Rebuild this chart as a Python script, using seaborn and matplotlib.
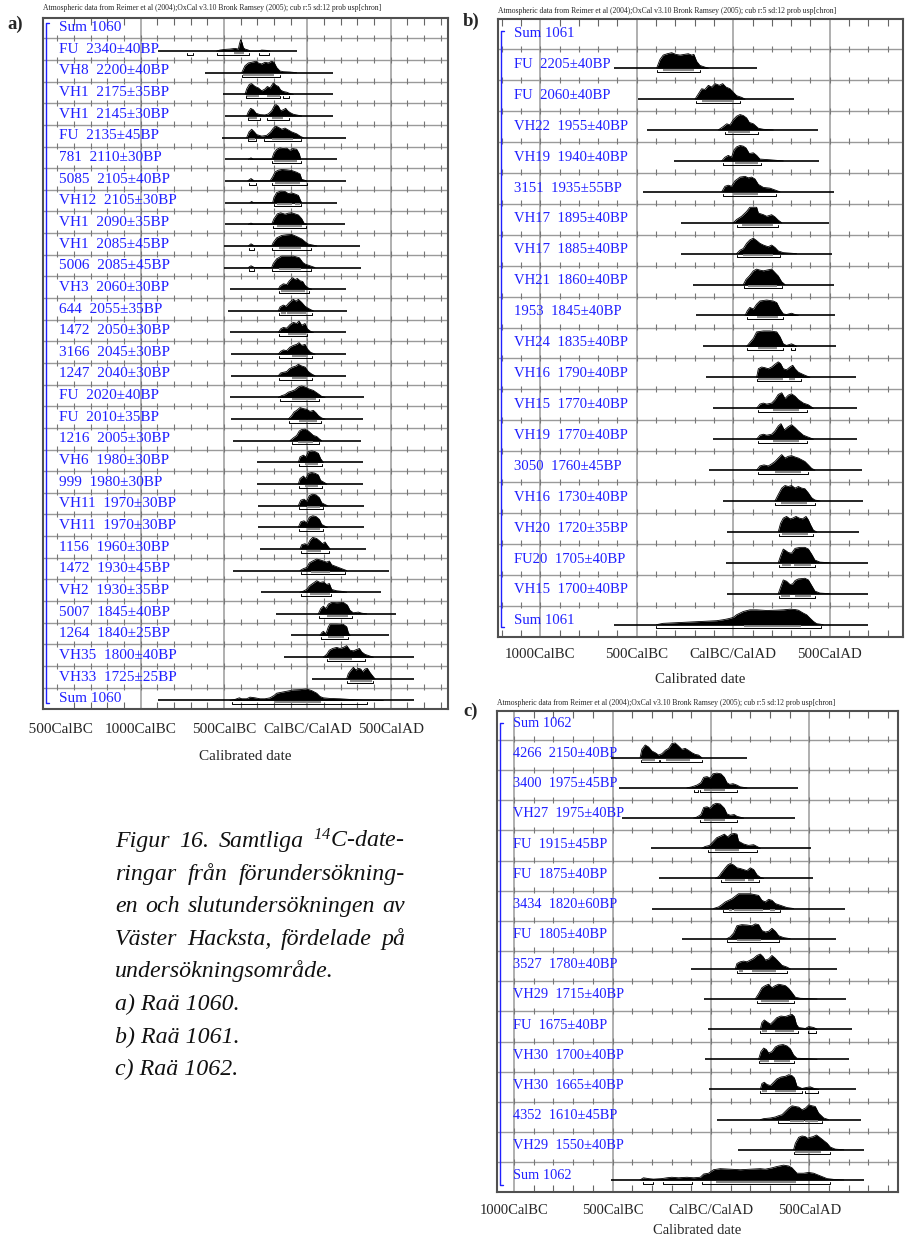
import numpy as np
import pandas as pd
import matplotlib
matplotlib.use("Agg")
import matplotlib.pyplot as plt
import seaborn as sns
from matplotlib.transforms import Bbox, blended_transform_factory

# ---------------------------------------------------------------- data
HEADER = ("Atmospheric data from Reimer et al (2004);OxCal v3.10 Bronk Ramsey (2005); "
          "cub r:5 sd:12 prob usp[chron]")

# Raä 1060
A_LABELS = ["Sum 1060", "FU  2340±40BP", "VH8  2200±40BP", "VH1  2175±35BP", "VH1  2145±30BP",
            "FU  2135±45BP", "781  2110±30BP", "5085  2105±40BP", "VH12  2105±30BP",
            "VH1  2090±35BP", "VH1  2085±45BP", "5006  2085±45BP", "VH3  2060±30BP",
            "644  2055±35BP", "1472  2050±30BP", "3166  2045±30BP", "1247  2040±30BP",
            "FU  2020±40BP", "FU  2010±35BP", "1216  2005±30BP", "VH6  1980±30BP",
            "999  1980±30BP", "VH11  1970±30BP", "VH11  1970±30BP", "1156  1960±30BP",
            "1472  1930±45BP", "VH2  1930±35BP", "5007  1845±40BP", "1264  1840±25BP",
            "VH35  1800±40BP", "VH33  1725±25BP", "Sum 1060"]
A_SPANS = [None, (-895, -65), (-614, 152), (-504, 152), (-494, 152), (-510, 232), (-494, 180),
           (-494, 232), (-494, 180), (-494, 228), (-500, 316), (-500, 320), (-464, 232),
           (-474, 236), (-464, 232), (-458, 232), (-458, 232), (-464, 342), (-458, 336),
           (-448, 322), (-300, 336), (-300, 336), (-294, 342), (-294, 342), (-284, 350),
           (-444, 492), (-278, 440), (-190, 530), (-98, 488), (-140, 640), (26, 640), (-895, 640)]
A_YEARS = [
    None,
    [-544, -524, -494, -464, -434, -414, -408, -400, -392, -384, -374, -354, -344, -294, -274, -244, -224],
    [-394, -374, -354, -334, -308, -294, -274, -254, -234, -214, -200, -184, -164, -144, -104, -64],
    [-374, -364, -348, -334, -314, -294, -274, -254, -240, -224, -204, -188, -174, -160, -144, -124, -108, -84],
    [-364, -354, -340, -324, -308, -284, -254, -234, -214, -200, -188, -174, -160, -144, -130, -118, -104, -84, -54, -34],
    [-364, -350, -334, -320, -304, -274, -244, -220, -204, -188, -174, -154, -134, -114, -94, -64, -40, -24],
    [-354, -338, -324, -214, -200, -184, -164, -144, -124, -104, -88, -64, -48, -40],
    [-358, -338, -318, -224, -208, -194, -174, -154, -124, -94, -64, -44, -34, -4],
    [-344, -334, -324, -208, -200, -184, -160, -134, -114, -94, -74, -54, -40, -34],
    [-354, -338, -324, -214, -200, -180, -160, -134, -114, -94, -74, -54, -34, -20, -4],
    [-354, -338, -318, -214, -204, -184, -154, -124, -94, -64, -34, -14, 6, 36, 56],
    [-354, -338, -318, -214, -204, -184, -154, -124, -84, -48, -28, -14, 16, 46],
    [-174, -164, -144, -124, -108, -88, -74, -60, -44, -28, -14, 6, 26],
    [-174, -164, -144, -128, -108, -84, -68, -54, -34, -14, 0, 20, 36],
    [-174, -160, -144, -124, -104, -84, -64, -50, -34, -14, 0, 20, 36],
    [-174, -160, -144, -124, -104, -84, -64, -50, -34, -14, 0, 20, 46],
    [-174, -160, -144, -124, -108, -88, -68, -54, -34, -14, 6, 26, 46],
    [-174, -154, -134, -114, -94, -74, -54, -34, -14, 6, 36, 66, 86, 106],
    [-114, -94, -80, -64, -44, -24, -4, 16, 36, 52, 66, 86, 106],
    [-104, -84, -64, -48, -34, -14, 6, 20, 36, 56, 72, 86],
    [-54, -44, -24, -8, 6, 26, 46, 66, 80, 96],
    [-54, -44, -24, -8, 6, 26, 46, 66, 80, 106, 116],
    [-54, -40, -20, -4, 12, 32, 52, 72, 86, 106, 120],
    [-54, -40, -20, -4, 12, 32, 52, 72, 86, 106, 120],
    [-44, -34, -14, 0, 16, 32, 56, 76, 90, 106, 120, 136],
    [-44, -24, -4, 12, 32, 56, 76, 96, 116, 132, 146, 176, 206, 236],
    [-44, -24, -4, 12, 32, 56, 76, 96, 116, 132, 146, 176, 216, 236],
    [66, 80, 96, 112, 126, 146, 176, 216, 240, 256, 276, 306, 326, 356],
    [76, 86, 96, 112, 126, 136, 176, 216, 236, 246, 256],
    [96, 116, 132, 152, 176, 196, 216, 236, 256, 276, 296, 312, 326, 346, 376, 396],
    [236, 246, 262, 276, 292, 306, 320, 332, 346, 360, 376, 392, 406],
    [-464, -434, -408, -394, -364, -344, -314, -284, -254, -224, -200, -184, -154, -124, -84, -44,
     -4, 26, 56, 76, 96, 136, 196, 256, 336, 456],
]
A_DENS = [
    None,
    [0, 3, 5, 6, 8, 6, 20, 34, 25, 10, 6, 3, 0, 0, 3, 2, 0],
    [0, 20, 28, 30, 33, 28, 25, 30, 28, 33, 30, 15, 5, 3, 2, 0],
    [0, 15, 28, 30, 22, 18, 10, 15, 22, 18, 32, 25, 22, 12, 8, 6, 3, 0],
    [0, 12, 22, 18, 8, 4, 3, 6, 15, 28, 33, 28, 15, 18, 22, 15, 10, 5, 2, 0],
    [0, 15, 22, 16, 8, 4, 6, 15, 25, 30, 27, 22, 25, 20, 15, 10, 3, 0],
    [0, 4, 0, 0, 18, 28, 32, 30, 31, 25, 30, 28, 15, 0],
    [0, 7, 0, 0, 12, 26, 31, 33, 32, 30, 25, 20, 5, 0],
    [0, 3, 0, 0, 15, 28, 32, 31, 25, 27, 24, 20, 5, 0],
    [0, 3, 0, 0, 15, 28, 31, 27, 30, 31, 28, 25, 15, 3, 0],
    [0, 6, 0, 0, 10, 23, 30, 32, 33, 27, 20, 12, 5, 2, 0],
    [0, 5, 0, 0, 12, 25, 33, 33, 33, 28, 15, 10, 5, 0],
    [0, 8, 14, 12, 22, 30, 25, 28, 22, 20, 10, 3, 0],
    [0, 10, 15, 12, 22, 30, 25, 30, 22, 12, 8, 3, 0],
    [0, 10, 14, 12, 22, 28, 25, 32, 20, 25, 10, 3, 0],
    [0, 8, 12, 10, 20, 25, 28, 33, 25, 28, 15, 5, 0],
    [0, 8, 10, 12, 20, 25, 28, 33, 28, 25, 12, 5, 0],
    [0, 5, 8, 15, 18, 22, 30, 33, 30, 25, 20, 10, 3, 0],
    [0, 10, 20, 25, 33, 30, 28, 22, 25, 18, 10, 3, 0],
    [0, 8, 15, 28, 32, 33, 28, 22, 15, 12, 5, 0],
    [0, 15, 20, 15, 30, 32, 30, 25, 10, 0],
    [0, 15, 22, 15, 30, 32, 30, 25, 10, 3, 0],
    [0, 15, 18, 12, 28, 32, 30, 22, 8, 3, 0],
    [0, 15, 18, 12, 28, 32, 30, 22, 8, 3, 0],
    [0, 12, 15, 10, 25, 33, 30, 22, 15, 20, 10, 0],
    [0, 5, 8, 20, 25, 30, 28, 25, 22, 25, 15, 10, 5, 0],
    [0, 3, 8, 18, 25, 33, 28, 30, 22, 25, 8, 4, 2, 0],
    [0, 15, 22, 15, 28, 33, 32, 33, 25, 10, 3, 5, 2, 0],
    [0, 8, 12, 5, 25, 33, 33, 32, 25, 8, 0],
    [0, 8, 20, 25, 28, 25, 28, 33, 20, 18, 22, 25, 15, 8, 3, 0],
    [0, 15, 25, 33, 25, 30, 28, 20, 28, 30, 18, 8, 0],
    [0, 3, 8, 5, 5, 10, 8, 5, 5, 8, 15, 22, 25, 28, 32, 33, 35, 30, 22, 12, 8, 6, 5, 3, 1, 0],
]
A_R68 = [None, [(-440, -380)], [(-384, -200)], [(-370, -288), (-244, -164)],
         [(-354, -304), (-214, -144)], [(-348, -314), (-214, -88)], [(-200, -64)], [(-194, -44)],
         [(-184, -94), (-74, -44)], [(-184, -34)], [(-168, -40)], [(-168, -40)], [(-160, -14)],
         [(-160, -130), (-124, -8)], [(-114, -8)], [(-94, 6)], [(-94, -4)], [(-94, 52)], [(-48, 56)],
         [(-54, 36)], [(-14, 66)], [(-14, 66)], [(-4, 76)], [(-4, 76)], [(-4, 80)], [(20, 136)],
         [(16, 136)], [(116, 246)], [(126, 222)], [(132, 266)], [(256, 386)], [(-200, 80)]]
A_R95 = [None, [(-720, -688), (-540, -348), (-288, -228)], [(-392, -164)],
         [(-370, -164), (-144, -108)], [(-358, -284), (-240, -108)], [(-354, -308), (-258, -40)],
         [(-210, -38)], [(-350, -308), (-210, -4)], [(-200, -38)], [(-208, -8)],
         [(-350, -318), (-210, 22)], [(-350, -318), (-210, 22)], [(-170, 12)], [(-170, 30)],
         [(-170, -4)], [(-170, 30)], [(-170, 30)], [(-164, 72)], [(-110, 82)], [(-94, 72)],
         [(-50, 86)], [(-50, 86)], [(-50, 92)], [(-50, 92)], [(-40, 132)], [(-40, 226)],
         [(-40, 142)], [(72, 266)], [(80, 242)], [(120, 346)], [(240, 392)], [(-454, 356)]]
A_TICKS = [-1500, -1000, -500, 0, 500]
A_TICKLABELS = ["1500CalBC", "1000CalBC", "500CalBC", "CalBC/CalAD", "500CalAD"]
A_GRID = [-1000, -500, 0, 500]

# Raä 1061
B_LABELS = ["Sum 1061", "FU  2205±40BP", "FU  2060±40BP", "VH22  1955±40BP", "VH19  1940±40BP",
            "3151  1935±55BP", "VH17  1895±40BP", "VH17  1885±40BP", "VH21  1860±40BP",
            "1953  1845±40BP", "VH24  1835±40BP", "VH16  1790±40BP", "VH15  1770±40BP",
            "VH19  1770±40BP", "3050  1760±45BP", "VH16  1730±40BP", "VH20  1720±35BP",
            "FU20  1705±40BP", "VH15  1700±40BP", "Sum 1061"]
B_SPANS = [None, (-618, 121), (-492, 314), (-449, 437), (-307, 446), (-466, 522), (-273, 498),
           (-273, 510), (-207, 522), (-193, 527), (-155, 532), (-141, 636), (-104, 639),
           (-104, 639), (-124, 665), (-52, 670), (-34, 653), (-38, 700), (-34, 700), (-618, 700)]
B_YEARS = [
    None,
    [-397, -380, -363, -342, -319, -297, -276, -255, -233, -216, -204, -190, -173, -147, -129],
    [-198, -181, -164, -147, -129, -112, -95, -72, -55, -38, -17, 0, 17, 43, 61],
    [-78, -52, -34, -17, 0, 17, 35, 52, 69, 83, 104, 130, 156, 207],
    [-60, -43, -26, -9, 4, 17, 35, 52, 66, 83, 104, 121, 138, 190, 259],
    [-60, -43, -26, -9, 9, 35, 61, 78, 95, 112, 130, 156, 190, 216, 242],
    [0, 17, 43, 69, 86, 121, 130, 156, 173, 199, 216, 233, 251],
    [17, 35, 52, 69, 86, 104, 121, 138, 156, 181, 199, 216, 233, 259, 328],
    [52, 66, 83, 104, 121, 138, 156, 173, 199, 216, 233, 251, 268],
    [61, 73, 86, 104, 121, 138, 173, 207, 225, 242, 259, 276, 302, 320, 337],
    [69, 83, 104, 121, 156, 190, 225, 242, 259, 276, 302, 320, 328],
    [121, 130, 147, 164, 181, 199, 216, 233, 245, 259, 276, 294, 308, 320, 337, 363, 397],
    [121, 138, 156, 173, 199, 216, 233, 251, 268, 285, 302, 320, 337, 363, 389, 415],
    [121, 138, 156, 173, 199, 216, 233, 247, 264, 285, 302, 320, 337, 363, 389, 415],
    [121, 138, 159, 181, 199, 216, 233, 251, 268, 285, 302, 320, 337, 354, 371, 389, 406, 423],
    [216, 233, 251, 268, 285, 302, 320, 337, 354, 371, 389, 406, 423, 449],
    [233, 245, 259, 276, 294, 308, 325, 342, 359, 377, 389, 401, 415, 432],
    [233, 245, 259, 273, 285, 302, 320, 346, 371, 389, 406, 423, 449, 501],
    [233, 245, 259, 276, 294, 308, 320, 337, 371, 389, 406, 423, 449, 501],
    [-397, -363, -293, -224, -155, -86, -52, -26, 0, 17, 52, 86, 121, 173, 225, 259, 294, 320, 337,
     363, 380, 397, 415, 432, 466],
]
B_DENS = [
    None,
    [0, 25, 38, 42, 45, 40, 38, 40, 42, 38, 40, 20, 8, 3, 0],
    [0, 15, 30, 28, 40, 35, 45, 40, 45, 35, 30, 20, 10, 5, 0],
    [0, 10, 18, 15, 30, 40, 45, 42, 35, 22, 18, 5, 2, 0],
    [0, 10, 15, 10, 30, 38, 42, 40, 35, 20, 22, 15, 5, 3, 0],
    [0, 15, 18, 15, 30, 40, 42, 38, 40, 35, 20, 12, 10, 5, 0],
    [0, 10, 20, 35, 48, 48, 30, 25, 20, 25, 18, 8, 0],
    [0, 10, 15, 30, 40, 45, 38, 30, 25, 20, 25, 18, 8, 3, 0],
    [0, 15, 25, 40, 45, 42, 40, 42, 45, 35, 25, 8, 0],
    [0, 15, 25, 20, 35, 45, 48, 45, 40, 20, 5, 3, 7, 3, 0],
    [0, 10, 25, 45, 48, 48, 45, 30, 8, 3, 8, 3, 0],
    [0, 25, 30, 28, 25, 30, 38, 45, 40, 25, 22, 30, 35, 25, 15, 8, 0],
    [0, 12, 15, 12, 15, 25, 40, 45, 28, 38, 42, 35, 25, 15, 10, 0],
    [0, 12, 15, 12, 15, 25, 40, 47, 28, 38, 44, 35, 25, 12, 6, 0],
    [0, 12, 15, 12, 18, 25, 35, 45, 35, 40, 42, 38, 35, 30, 25, 15, 5, 0],
    [0, 20, 40, 48, 45, 48, 40, 45, 40, 38, 25, 10, 3, 0],
    [0, 25, 40, 45, 38, 40, 45, 40, 38, 45, 35, 20, 5, 0],
    [0, 20, 40, 35, 30, 28, 42, 45, 45, 40, 25, 8, 2, 0],
    [0, 20, 42, 38, 28, 30, 40, 45, 47, 42, 25, 8, 2, 0],
    [0, 4, 6, 8, 10, 12, 15, 18, 22, 30, 40, 45, 45, 43, 44, 45, 47, 46, 44, 35, 30, 20, 10, 3, 0],
]
B_R68 = [None, [(-366, -204)], [(-164, 4)], [(-26, 86)], [(9, 130)], [(0, 130)], [(43, 207)],
         [(52, 207)], [(78, 225)], [(121, 233)], [(130, 228)], [(130, 259), (290, 320)],
         [(204, 340)], [(207, 340)], [(216, 349)], [(245, 380)], [(251, 389)],
         [(251, 299), (316, 401)], [(247, 294), (320, 401)], [(57, 349)]]
B_R95 = [None, [(-394, -173)], [(-193, 35)], [(-43, 130)], [(-52, 142)], [(-52, 221)], [(17, 233)],
         [(17, 242)], [(55, 251)], [(69, 259)], [(69, 259), (299, 320)], [(121, 349)], [(130, 380)],
         [(130, 380)], [(130, 389)], [(216, 423)], [(237, 411)], [(237, 423)], [(237, 423)],
         [(-402, 453)]]
B_TICKS = [-1000, -500, 0, 500]
B_TICKLABELS = ["1000CalBC", "500CalBC", "CalBC/CalAD", "500CalAD"]
B_GRID = [-1000, -500, 0, 500]

# Raä 1062
C_LABELS = ["Sum 1062", "4266  2150±40BP", "3400  1975±45BP", "VH27  1975±40BP", "FU  1915±45BP",
            "FU  1875±40BP", "3434  1820±60BP", "FU  1805±40BP", "3527  1780±40BP",
            "VH29  1715±40BP", "FU  1675±40BP", "VH30  1700±40BP", "VH30  1665±40BP",
            "4352  1610±45BP", "VH29  1550±40BP", "Sum 1062"]
C_SPANS = [None, (-509, 183), (-465, 441), (-450, 429), (-305, 508), (-266, 519), (-300, 683),
           (-148, 637), (-102, 641), (-34, 688), (-17, 717), (-29, 703), (-12, 737), (30, 763),
           (140, 776), (-509, 776)]
C_YEARS = [
    None,
    [-360, -351, -334, -317, -300, -283, -266, -249, -232, -215, -199, -182, -165, -148, -131, -114, -97, -80, -63, -46],
    [-122, -97, -71, -51, -37, -20, -4, 10, 30, 51, 68, 81, 95, 112, 132, 149, 183],
    [-88, -71, -51, -37, -20, -4, 10, 27, 47, 68, 81, 98, 118, 132, 166],
    [-46, -29, -7, 13, 30, 51, 68, 85, 101, 118, 132, 140, 166, 191, 217, 234, 251],
    [22, 39, 56, 73, 85, 98, 115, 132, 149, 166, 183, 200, 217, 234, 251, 268],
    [13, 39, 56, 73, 90, 107, 129, 140, 200, 242, 259, 276, 293, 310, 327, 352, 386, 420],
    [81, 98, 115, 132, 157, 183, 208, 225, 242, 259, 276, 293, 310, 327, 344, 369, 403],
    [124, 132, 149, 166, 183, 200, 217, 234, 251, 264, 276, 293, 310, 327, 344, 361, 386, 403],
    [225, 242, 259, 276, 293, 310, 327, 344, 361, 378, 395, 412, 429, 454, 539],
    [251, 259, 271, 285, 302, 319, 335, 356, 378, 395, 412, 424, 434, 446, 480, 497, 522, 539],
    [242, 254, 268, 281, 293, 310, 327, 344, 366, 386, 403, 420, 437, 488, 539],
    [251, 259, 271, 285, 302, 319, 335, 356, 378, 395, 412, 424, 437, 463, 485, 505, 525, 547],
    [251, 268, 302, 327, 344, 361, 378, 395, 412, 429, 446, 463, 480, 497, 514, 530, 547, 573, 598],
    [420, 429, 446, 463, 480, 491, 505, 519, 536, 552, 569, 590, 607, 632, 675],
    [-360, -343, -317, -292, -249, -224, -199, -165, -122, -88, -54, -37, -12, 13, 47, 98, 149, 200,
     251, 276, 310, 335, 369, 395, 412, 437, 471, 497, 522, 556, 590, 624, 675],
]
C_DENS = [
    None,
    [0, 25, 38, 32, 20, 15, 8, 12, 22, 28, 42, 44, 35, 25, 28, 22, 15, 10, 8, 0],
    [0, 3, 8, 15, 30, 32, 28, 40, 42, 40, 30, 15, 10, 12, 8, 3, 0],
    [0, 3, 10, 30, 32, 28, 38, 42, 40, 28, 12, 8, 10, 5, 0],
    [0, 5, 8, 20, 30, 35, 40, 32, 40, 42, 40, 20, 12, 8, 10, 5, 0],
    [0, 5, 18, 30, 38, 42, 38, 30, 28, 25, 22, 30, 25, 10, 3, 0],
    [0, 5, 12, 20, 25, 30, 40, 45, 45, 40, 25, 20, 28, 25, 15, 10, 3, 0],
    [0, 5, 15, 35, 38, 37, 35, 40, 38, 22, 18, 20, 28, 20, 8, 3, 0],
    [0, 15, 20, 22, 20, 25, 30, 38, 42, 35, 25, 28, 38, 30, 20, 10, 5, 0],
    [0, 15, 32, 38, 42, 32, 38, 42, 40, 38, 30, 18, 5, 2, 0],
    [0, 20, 28, 22, 15, 25, 35, 40, 38, 42, 45, 38, 15, 5, 2, 8, 5, 0],
    [0, 22, 32, 28, 18, 22, 35, 40, 42, 38, 30, 12, 3, 2, 0],
    [0, 18, 22, 15, 12, 22, 32, 38, 40, 45, 42, 35, 10, 3, 6, 8, 3, 0],
    [0, 3, 5, 8, 12, 15, 25, 35, 42, 40, 38, 30, 35, 45, 42, 40, 20, 5, 0],
    [0, 20, 38, 42, 40, 35, 38, 40, 45, 38, 30, 20, 8, 2, 0],
    [0, 8, 5, 3, 5, 8, 10, 8, 10, 8, 10, 22, 25, 38, 42, 40, 38, 40, 42, 40, 45, 50, 55, 52, 45,
     25, 25, 28, 25, 15, 5, 2, 0],
]
C_R68 = [None, [(-348, -283), (-227, -105)], [(-37, 73)], [(-37, 73)], [(22, 144)],
         [(73, 174), (186, 217)], [(90, 107), (118, 264), (302, 324)], [(132, 254)],
         [(142, 163), (208, 332)], [(254, 395)], [(259, 285), (327, 424)],
         [(251, 293), (319, 403)], [(259, 285), (327, 434)], [(400, 471), (480, 544)],
         [(429, 561)], [(25, 434)]]
C_R95 = [None, [(-356, -266), (-258, -46)], [(-88, -68), (-58, 132)], [(-58, 132)], [(-17, 234)],
         [(51, 242)], [(61, 352)], [(81, 344)], [(132, 386)], [(234, 420)],
         [(251, 441), (491, 534)], [(242, 420)], [(251, 463), (480, 544)], [(340, 564)],
         [(420, 603)], [(-346, -295), (-246, -97), (-46, 603)]]
C_TICKS = [-1000, -500, 0, 500]
C_TICKLABELS = ["1000CalBC", "500CalBC", "CalBC/CalAD", "500CalAD"]
C_GRID = [-1000, -500, 0, 500]

CAPTION = ["Figur 16. Samtliga $^{14}$C-date-", "ringar från förundersökning-",
           "en och slutundersökningen av", "Väster Hacksta, fördelade på",
           "undersökningsområde.", "a) Raä 1060.", "b) Raä 1061.", "c) Raä 1062."]

# ---------------------------------------------------------------- style
sns.set_theme(style="ticks")
plt.rcParams["font.family"] = ["Liberation Serif", "DejaVu Serif"]
plt.rcParams["mathtext.fontset"] = "custom"
plt.rcParams["mathtext.rm"] = "Liberation Serif:italic"
plt.rcParams["mathtext.it"] = "Liberation Serif:italic"
plt.rcParams["mathtext.default"] = "it"

BLUE = "#2020ff"
GRID = "#9a9a9a"
FRAME = "#505050"
W, H = 905, 1241

fig = plt.figure(figsize=(W / 100, H / 100), dpi=100)
fig.patch.set_facecolor("white")


def rect(x0, y0, x1, y1):
    return [x0 / W, 1 - y1 / H, (x1 - x0) / W, (y1 - y0) / H]


PANELS = [
    dict(labels=A_LABELS, spans=A_SPANS, years=A_YEARS, dens=A_DENS, r68=A_R68, r95=A_R95,
         ticks=A_TICKS, ticklabels=A_TICKLABELS, grid=A_GRID,
         box=(43, 18.3, 448, 709.3), xlim=(-1586, 844), ytop=0.076, base=0.59, peak=0.53,
         text_base=0.67, fs=11, tfs=11, pad=10.2, labelpad=10,
         bracket=(0.0074, 0.29, 31.71), header=(43, 8.3), letter=("a)", 7, 24)),
    dict(labels=B_LABELS, spans=B_SPANS, years=B_YEARS, dens=B_DENS, r68=B_R68, r95=B_R95,
         ticks=B_TICKS, ticklabels=B_TICKLABELS, grid=B_GRID,
         box=(498, 19, 903.3, 636.7), xlim=(-1219, 881), ytop=0.02, base=0.61, peak=0.50,
         text_base=0.60, fs=10.6, tfs=10.7, pad=8.2, labelpad=8.5,
         bracket=(0.0074, 0.41, 19.7), header=(498, 10.7), letter=("b)", 463, 21)),
    dict(labels=C_LABELS, spans=C_SPANS, years=C_YEARS, dens=C_DENS, r68=C_R68, r95=C_R95,
         ticks=C_TICKS, ticklabels=C_TICKLABELS, grid=C_GRID,
         box=(497, 710.7, 897.7, 1192.3), xlim=(-1087, 949), ytop=0.03, base=0.59, peak=0.49,
         text_base=0.57, fs=10.4, tfs=10.5, pad=8.2, labelpad=5,
         bracket=(0.0075, 0.44, 15.76), header=(497, 703.3), letter=("c)", 463, 711)),
]


def draw_panel(p):
    ax = fig.add_axes(rect(*p["box"]))
    n = len(p["labels"])
    x0, x1 = p["xlim"]
    row_px = (p["box"][3] - p["box"][1]) / (n - p["ytop"])
    off68, off95 = 1.8 / row_px, 3.8 / row_px
    trans = blended_transform_factory(ax.transAxes, ax.transData)

    # grid: calendar lines every 500 years, one line between each entry
    for g in p["grid"]:
        ax.axvline(g, color=GRID, lw=1.1, zorder=0)
    for k in range(1, n):
        ax.axhline(k, color=GRID, lw=1.0, zorder=0)
    minor = np.arange(-2000, 1100, 100)
    minor = minor[(minor > x0) & (minor < x1)]
    for k in range(1, n):
        ax.plot(minor, np.full(minor.size, k - 0.02), ls="none", marker="|", ms=4.5, mew=0.8,
                color="#777777", zorder=1)

    # probability distributions
    frames = []
    for i in range(n):
        ax.text(0.04, i + p["text_base"], p["labels"][i], transform=trans, color=BLUE,
                fontsize=p["fs"], va="baseline", ha="left", zorder=2)
        if p["spans"][i] is None:
            continue
        yb = i + p["base"]
        ax.plot(p["spans"][i], [yb, yb], color="black", lw=1.2, solid_capstyle="butt", zorder=3)
        xs = np.asarray(p["years"][i], float)
        ds = np.asarray(p["dens"][i], float)
        top = yb - ds / ds.max() * p["peak"]
        ax.fill_between(xs, yb, top, color="black", lw=0, zorder=4)
        frames.append(pd.DataFrame({"year": xs, "level": top, "row": i}))
        for a, b in p["r68"][i]:
            ax.plot([a, b], [yb + off68] * 2, color="#8c8c8c", lw=1.6, solid_capstyle="butt", zorder=3)
        for a, b in p["r95"][i]:
            ax.plot([a, a, b, b], [yb + off68, yb + off95, yb + off95, yb + off68],
                    color="black", lw=0.7, zorder=3)
    outline = pd.concat(frames, ignore_index=True)
    sns.lineplot(data=outline, x="year", y="level", units="row", estimator=None, color="black",
                 lw=0.6, ax=ax, legend=False, zorder=5)

    # blue bracket spanning the group
    bx, bt, bb = p["bracket"]
    ax.plot([bx + 0.008, bx, bx, bx + 0.008], [bt, bt, bb, bb], transform=trans, color=BLUE,
            lw=1.0, zorder=2)

    ax.set_xlim(x0, x1)
    ax.set_ylim(n, p["ytop"])
    ax.set_yticks([])
    ax.set_ylabel("")
    ax.set_xticks(p["ticks"], p["ticklabels"])
    ax.set_xticks(minor, minor=True)
    ax.tick_params(axis="x", which="major", length=0, pad=p["pad"], labelsize=p["tfs"])
    ax.tick_params(axis="x", which="minor", direction="in", length=5, width=0.8,
                   color="#666666", top=True, bottom=True)
    ax.set_xlabel("Calibrated date", fontsize=p["tfs"], labelpad=p["labelpad"])
    for s in ax.spines.values():
        s.set_visible(True)
        s.set_color(FRAME)
        s.set_linewidth(1.5)
    ax.set_facecolor("white")

    hx, hy = p["header"]
    fig.text(hx / W, 1 - hy / H, HEADER, fontsize=5.5, ha="left", va="center")
    letter, lx, ly = p["letter"]
    fig.text(lx / W, 1 - ly / H, letter, fontsize=13.5, fontweight="bold", ha="left", va="center")
    return ax


axes = [draw_panel(p) for p in PANELS]

# the leftmost label of panel a runs off the page edge
first = axes[0].get_xticklabels()[0]
first.set_clip_box(Bbox.from_extents(29, 0, W, H))
first.set_clip_on(True)

# caption, justified like the printed page
renderer = fig.canvas.get_renderer()
cap_kw = dict(fontsize=17.2, style="italic", va="baseline", ha="left", color="#111111")
cx0, cx1 = 115, 405
for k, line in enumerate(CAPTION):
    yb = 1 - (847 + 32.6 * k) / H
    if k < 4:
        words = line.split(" ")
        texts = [fig.text(0, yb, w, **cap_kw) for w in words]
        widths = [t.get_window_extent(renderer).width for t in texts]
        gap = (cx1 - cx0 - sum(widths)) / (len(words) - 1)
        x = cx0
        for t, w in zip(texts, widths):
            t.set_x(x / W)
            x += w + gap
    else:
        fig.text(cx0 / W, yb, line, **cap_kw)

fig.savefig("out.png", dpi=100, facecolor="white")
